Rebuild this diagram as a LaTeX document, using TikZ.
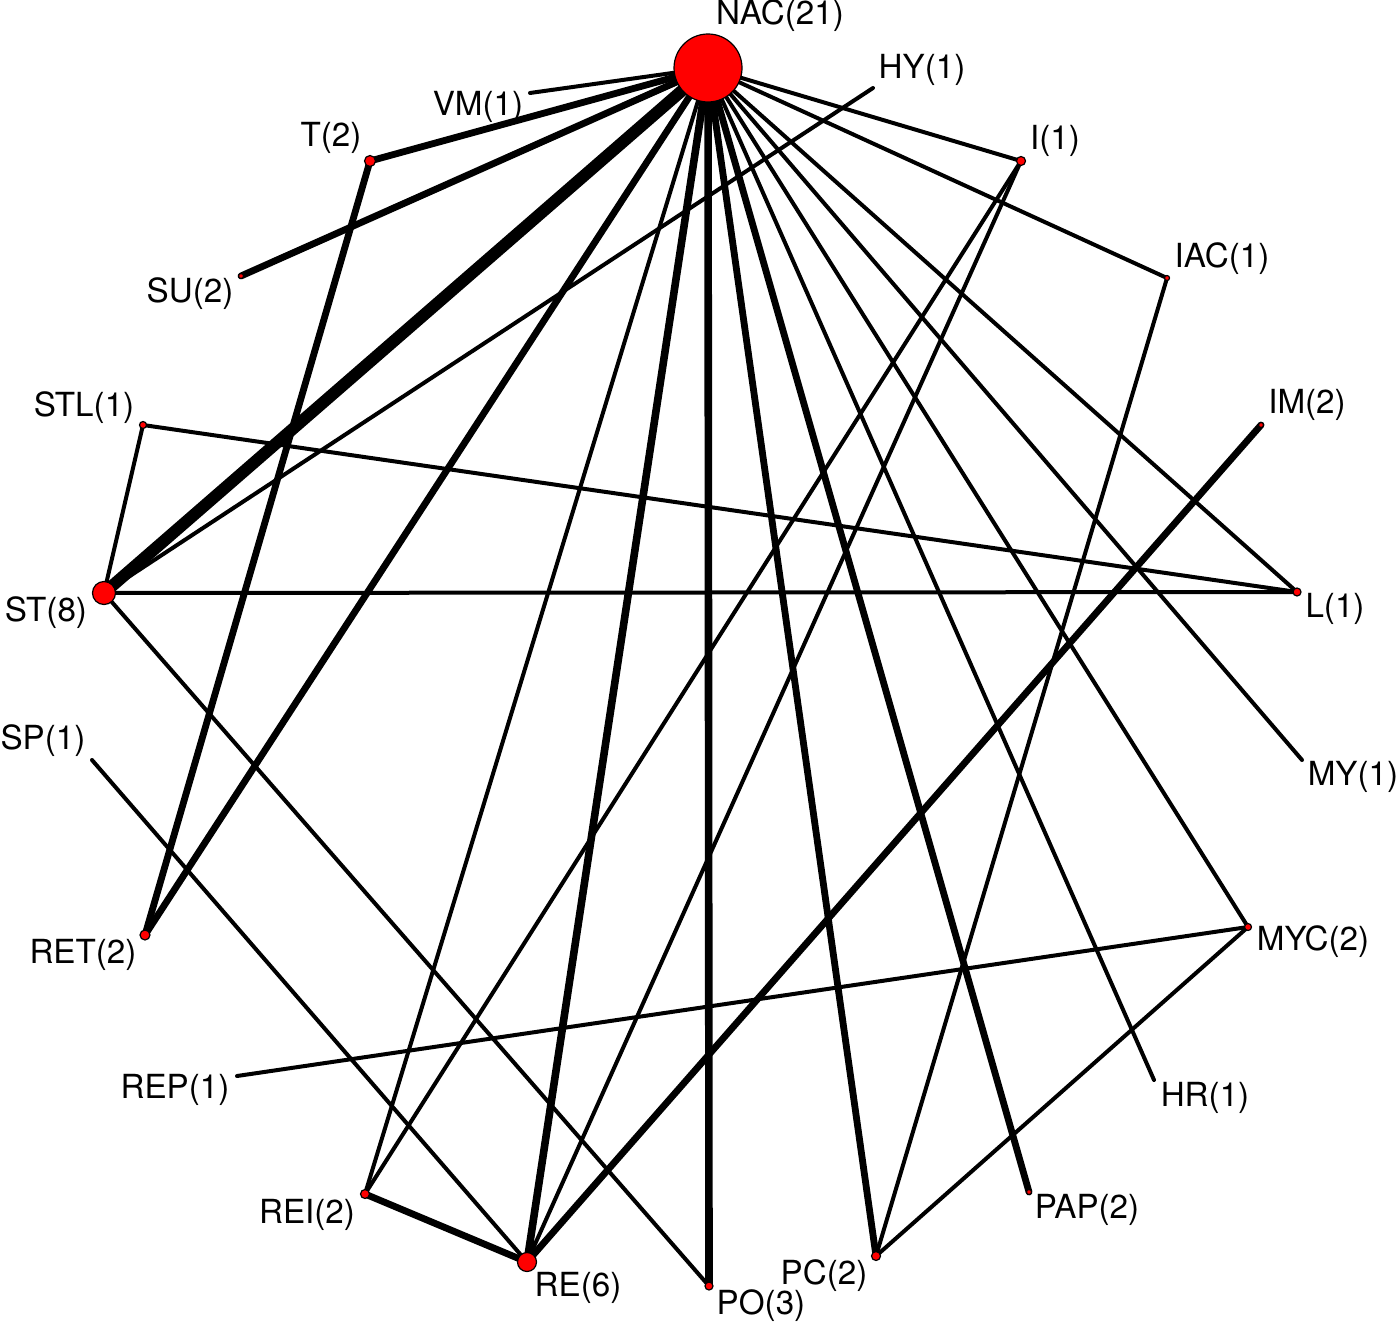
\documentclass[tikz,border=0pt]{standalone}
\usepackage{fontspec}
\setmainfont{TeX Gyre Heros}
\usetikzlibrary{backgrounds}
\begin{document}
\begin{tikzpicture}[x=0.5pt,y=-0.5pt,
  dot/.style={circle,fill=red,draw=black,line width=0.6pt,inner sep=0pt,minimum size=#1},
  dot/.default=3pt,
  nodot/.style={circle,inner sep=0pt,minimum size=1pt},
  lab/.style={inner sep=0pt,font=\fontsize{16.6}{19}\selectfont},
  edge/.style={line cap=round,draw=black},
  ethin/.style={edge,line width=2pt},
  emed/.style={edge,line width=3.4pt},
  ebig/.style={edge,line width=3.8pt},
  ehuge/.style={edge,line width=6pt}]
\useasboundingbox (0,0) rectangle (1400,1326);
% nodes
\node[dot=34pt] (NAC) at (708,68) {};
\node[nodot] (HY) at (873,88) {};
\node[nodot] (VM) at (530,93) {};
\node[dot=5.5pt] (T) at (370,161) {};
\node[dot=4.5pt] (I) at (1021,161) {};
\node[dot=2.5pt] (SU) at (241,276) {};
\node[dot=2.5pt] (IAC) at (1167,278) {};
\node[dot=3.5pt] (STL) at (143,425) {};
\node[dot=2.5pt] (IM) at (1261,425) {};
\node[dot=11.5pt] (ST) at (104,593) {};
\node[dot=4pt] (L) at (1297,592) {};
\node[nodot] (SP) at (92,760) {};
\node[nodot] (MY) at (1302,760) {};
\node[dot=5pt] (RET) at (145,935) {};
\node[dot=3.5pt] (MYC) at (1248,927) {};
\node[nodot] (REP) at (237,1076) {};
\node[nodot] (HR) at (1154,1080) {};
\node[dot=4.5pt] (REI) at (365,1194) {};
\node[dot=2.5pt] (PAP) at (1029,1192) {};
\node[dot=9.5pt] (RE) at (527,1262) {};
\node[dot=4pt] (PO) at (709,1286) {};
\node[dot=4.5pt] (PC) at (876,1256) {};
% labels
\node[lab] (lNAC) at (780,16) {NAC(21)};
\node[lab] (lHY) at (922,70) {HY(1)};
\node[lab] (lVM) at (478,107) {VM(1)};
\node[lab] (lT) at (331,138) {T(2)};
\node[lab] (lI) at (1055,141) {I(1)};
\node[lab] (lSU) at (190,294) {SU(2)};
\node[lab] (lIAC) at (1222,259) {IAC(1)};
\node[lab] (lSTL) at (84,408) {STL(1)};
\node[lab] (lIM) at (1307,405) {IM(2)};
\node[lab] (lST) at (46,613) {ST(8)};
\node[lab] (lL) at (1335,609) {L(1)};
\node[lab] (lSP) at (43,741) {SP(1)};
\node[lab] (lMY) at (1353,777) {MY(1)};
\node[lab] (lRET) at (83,955) {RET(2)};
\node[lab] (lMYC) at (1313,942) {MYC(2)};
\node[lab] (lREP) at (175,1090) {REP(1)};
\node[lab] (lHR) at (1205,1098) {HR(1)};
\node[lab] (lREI) at (307,1215) {REI(2)};
\node[lab] (lPAP) at (1087,1210) {PAP(2)};
\node[lab] (lRE) at (578,1288) {RE(6)};
\node[lab] (lPO) at (761,1306) {PO(3)};
\node[lab] (lPC) at (824,1276) {PC(2)};
% edges
\begin{pgfonlayer}{background}
\draw[ethin] (NAC.center) -- (VM.center);
\draw[ethin] (NAC.center) -- (REI.center);
\draw[ethin] (NAC.center) -- (HR.center);
\draw[ethin] (NAC.center) -- (MYC.center);
\draw[ethin] (NAC.center) -- (MY.center);
\draw[ethin] (NAC.center) -- (L.center);
\draw[ethin] (NAC.center) -- (IAC.center);
\draw[ethin] (NAC.center) -- (I.center);
\draw[ethin] (ST.center) -- (HY.center);
\draw[ethin] (ST.center) -- (STL.center);
\draw[ethin] (ST.center) -- (L.center);
\draw[ethin] (ST.center) -- (PO.center);
\draw[ethin] (STL.center) -- (L.center);
\draw[ethin] (I.center) -- (REI.center);
\draw[ethin] (I.center) -- (RE.center);
\draw[ethin] (IAC.center) -- (PC.center);
\draw[ethin] (SP.center) -- (RE.center);
\draw[ethin] (REP.center) -- (MYC.center);
\draw[ethin] (MYC.center) -- (PC.center);
\draw[emed] (NAC.center) -- (T.center);
\draw[emed] (NAC.center) -- (SU.center);
\draw[emed] (NAC.center) -- (RET.center);
\draw[emed] (NAC.center) -- (PC.center);
\draw[emed] (NAC.center) -- (PAP.center);
\draw[emed] (T.center) -- (RET.center);
\draw[emed] (IM.center) -- (RE.center);
\draw[emed] (REI.center) -- (RE.center);
\draw[ebig] (NAC.center) -- (RE.center);
\draw[ebig] (NAC.center) -- (PO.center);
\draw[ehuge] (NAC.center) -- (ST.center);
\end{pgfonlayer}
\end{tikzpicture}
\end{document}
